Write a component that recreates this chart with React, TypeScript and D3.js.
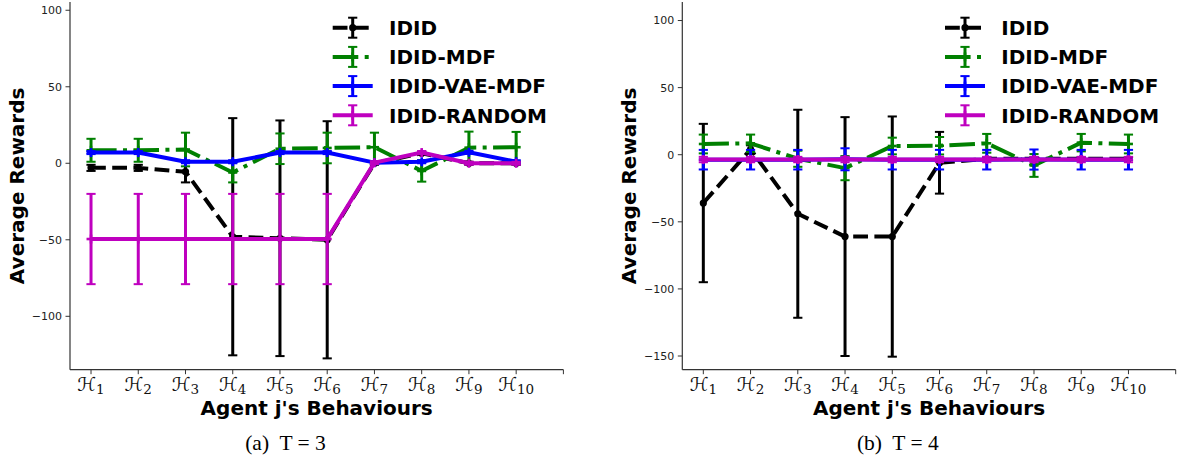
import React from 'react';
import * as d3 from 'd3';

const behaviours = ["1", "2", "3", "4", "5", "6", "7", "8", "9", "10"];
const seriesNames = ["IDID", "IDID-MDF", "IDID-VAE-MDF", "IDID-RANDOM"];
const seriesColors = ["#000000", "#008000", "#0000ff", "#bf00bf"];
const seriesDash = ["14.8,6.4", "25.6,6.4,4,6.4", "", ""];
const seriesMarker = ["circle", "plus", "plus", "plus"];

// T = 3
const t3IdidMean = [-3, -3, -5.5, -48, -49, -50, 0, 6.5, 0, 0];
const t3IdidErr = [2, 2, 7, 77.5, 77, 77.5, 1, 1, 1, 1];
const t3MdfMean = [8.5, 8.5, 9, -6, 9.5, 10, 10.5, -5, 10.2, 10.5];
const t3MdfErr = [7.5, 7.5, 11, 6.5, 10, 10, 9.5, 7, 10.5, 10];
const t3VaeMean = [7, 7, 1, 1, 7, 7, 0.4, 1, 7.2, 1];
const t3VaeErr = [1, 1, 1, 1, 1, 1, 1, 1, 1, 1];
const t3RandMean = [-49.5, -49.5, -49.5, -49.5, -49.5, -49.5, 0.4, 7, 0, 0];
const t3RandErr = [29.5, 29.5, 29.5, 29.5, 29.5, 29.5, 1, 1, 1, 1];

// T = 4
const t4IdidMean = [-36, 4, -44, -61, -61, -6, -3, -3, -3, -3];
const t4IdidErr = [59, 3, 77.5, 89, 89.5, 23, 1, 1, 1, 1];
const t4MdfMean = [8, 8.5, -3, -10, 6.5, 6.7, 8.5, -8, 9, 8];
const t4MdfErr = [7, 6.5, 6, 9, 6.2, 6.5, 7, 8.5, 6.5, 7];
const t4VaeMean = [-3.7, -3.7, -3.7, -3.4, -3.7, -3.7, -3.7, -3.6, -3.7, -3.7];
const t4VaeErr = [7.3, 7.3, 7.3, 8.2, 7.3, 7.3, 7.3, 7.5, 7.3, 7.3];
const t4RandMean = [-3.6, -3.6, -3.6, -3.6, -3.6, -3.6, -3.6, -3.6, -3.6, -3.6];
const t4RandErr = [2, 2, 2, 2, 2, 2, 2, 2, 2, 2];

const yTicksT3 = [-100, -50, 0, 50, 100];
const yTicksT4 = [-150, -100, -50, 0, 50, 100];
const xTickPositions = [1, 2, 3, 4, 5, 6, 7, 8, 9, 10, 11];

const PLOT_W = 493.4;
const PLOT_TOP = 2;
const PLOT_BOTTOM = 369.7;

type PanelProps = {
  ox: number;
  means: number[][];
  errs: number[][];
  yDomain: [number, number];
  yTicks: number[];
  caption: string;
};

function Marker({ kind, x, y, color }: { kind: string; x: number; y: number; color: string }) {
  if (kind === 'circle') return <circle cx={x} cy={y} r={3.6} fill={color} />;
  return (
    <g stroke={color} strokeWidth={2.6}>
      <line x1={x - 4.5} x2={x + 4.5} y1={y} y2={y} />
      <line x1={x} x2={x} y1={y - 4.5} y2={y + 4.5} />
    </g>
  );
}

function Panel({ ox, means, errs, yDomain, yTicks, caption }: PanelProps) {
  const x = d3.scaleLinear().domain([0.555, 11]).range([ox, ox + PLOT_W]);
  const y = d3.scaleLinear().domain(yDomain).range([PLOT_BOTTOM, PLOT_TOP]);
  const line = d3.line<number>().x((_, i) => x(i + 1)).y((d) => y(d));
  const fmt = (v: number) => (v < 0 ? '\u2212' + Math.abs(v) : String(v));
  const cap = 4.6;
  const legendX = ox + 262.7;
  return (
    <g>
      {means.map((m, s) => (
        <g key={s}>
          <g stroke={seriesColors[s]} strokeWidth={3}>
            {m.map((v, i) => (
              <g key={i}>
                <line x1={x(i + 1)} x2={x(i + 1)} y1={y(v - errs[s][i])} y2={y(v + errs[s][i])} />
                <line x1={x(i + 1) - cap} x2={x(i + 1) + cap} y1={y(v - errs[s][i])} y2={y(v - errs[s][i])} strokeWidth={2} />
                <line x1={x(i + 1) - cap} x2={x(i + 1) + cap} y1={y(v + errs[s][i])} y2={y(v + errs[s][i])} strokeWidth={2} />
              </g>
            ))}
          </g>
          <path
            d={line(m) || ''}
            fill="none"
            stroke={seriesColors[s]}
            strokeWidth={4}
            strokeDasharray={seriesDash[s] || undefined}
            strokeLinejoin="round"
          />
          {m.map((v, i) => (
            <Marker key={i} kind={seriesMarker[s]} x={x(i + 1)} y={y(v)} color={seriesColors[s]} />
          ))}
        </g>
      ))}
      <line x1={ox} x2={ox} y1={PLOT_TOP} y2={PLOT_BOTTOM} stroke="#333" strokeWidth={1.2} />
      <line x1={ox} x2={ox + PLOT_W} y1={PLOT_BOTTOM} y2={PLOT_BOTTOM} stroke="#333" strokeWidth={1.2} />
      {yTicks.map((t) => (
        <g key={t}>
          <line x1={ox - 4.5} x2={ox} y1={y(t)} y2={y(t)} stroke="#333" strokeWidth={1} />
          <text x={ox - 8} y={y(t)} dy="0.36em" textAnchor="end" fontFamily="DejaVu Sans" fontSize={11} fill="#222">
            {fmt(t)}
          </text>
        </g>
      ))}
      {xTickPositions.map((t, i) => (
        <g key={t}>
          <line x1={x(t)} x2={x(t)} y1={PLOT_BOTTOM} y2={PLOT_BOTTOM + 4.5} stroke="#333" strokeWidth={1} />
          {behaviours[i] !== undefined && (
            <text x={x(t)} y={391} textAnchor="middle" fill="#111">
              <tspan fontSize={19} fontFamily="DejaVu Sans">{'\u210B'}</tspan>
              <tspan fontSize={13.5} fontFamily="DejaVu Serif" dy={3}>{behaviours[i]}</tspan>
            </text>
          )}
        </g>
      ))}
      <text
        transform={`translate(${ox - 46.5},${(PLOT_TOP + PLOT_BOTTOM) / 2}) rotate(-90)`}
        textAnchor="middle"
        fontFamily="DejaVu Sans"
        fontWeight="bold"
        fontSize={20}
        fill="#000"
      >
        Average Rewards
      </text>
      <text x={ox + PLOT_W / 2} y={415} textAnchor="middle" fontFamily="DejaVu Sans" fontWeight="bold" fontSize={20} fill="#000">
        Agent j's Behaviours
      </text>
      <text x={ox + 215.5} y={450} textAnchor="middle" fontFamily="Liberation Serif" fontSize={21.5} fill="#000" xmlSpace="preserve">
        {caption}
      </text>
      {seriesNames.map((name, s) => {
        const cy = 27.7 + s * 29.2;
        const cx = legendX + 20;
        return (
          <g key={name}>
            <line x1={legendX} x2={legendX + 40} y1={cy} y2={cy} stroke={seriesColors[s]} strokeWidth={4} strokeDasharray={seriesDash[s] || undefined} />
            <g stroke={seriesColors[s]}>
              <line x1={cx} x2={cx} y1={cy - 10} y2={cy + 10} strokeWidth={3} />
              <line x1={cx - cap} x2={cx + cap} y1={cy - 10} y2={cy - 10} strokeWidth={2} />
              <line x1={cx - cap} x2={cx + cap} y1={cy + 10} y2={cy + 10} strokeWidth={2} />
            </g>
            <Marker kind={seriesMarker[s]} x={cx} y={cy} color={seriesColors[s]} />
            <text x={legendX + 56.3} y={cy + 7.3} fontFamily="DejaVu Sans" fontWeight="bold" fontSize={20} fill="#000">
              {name}
            </text>
          </g>
        );
      })}
    </g>
  );
}

export default function App() {
  return (
    <svg
      width={1179}
      height={457}
      style={{ position: 'absolute', left: 0, top: 0, background: '#fff' }}
    >
      <rect width={1179} height={457} fill="#fff" />
      <Panel
        ox={70}
        means={[t3IdidMean, t3MdfMean, t3VaeMean, t3RandMean]}
        errs={[t3IdidErr, t3MdfErr, t3VaeErr, t3RandErr]}
        yDomain={[-134.9, 105.4]}
        yTicks={yTicksT3}
        caption={'(a)  T = 3'}
      />
      <Panel
        ox={682.3}
        means={[t4IdidMean, t4MdfMean, t4VaeMean, t4RandMean]}
        errs={[t4IdidErr, t4MdfErr, t4VaeErr, t4RandErr]}
        yDomain={[-160.2, 113.8]}
        yTicks={yTicksT4}
        caption={'(b)  T = 4'}
      />
    </svg>
  );
}
